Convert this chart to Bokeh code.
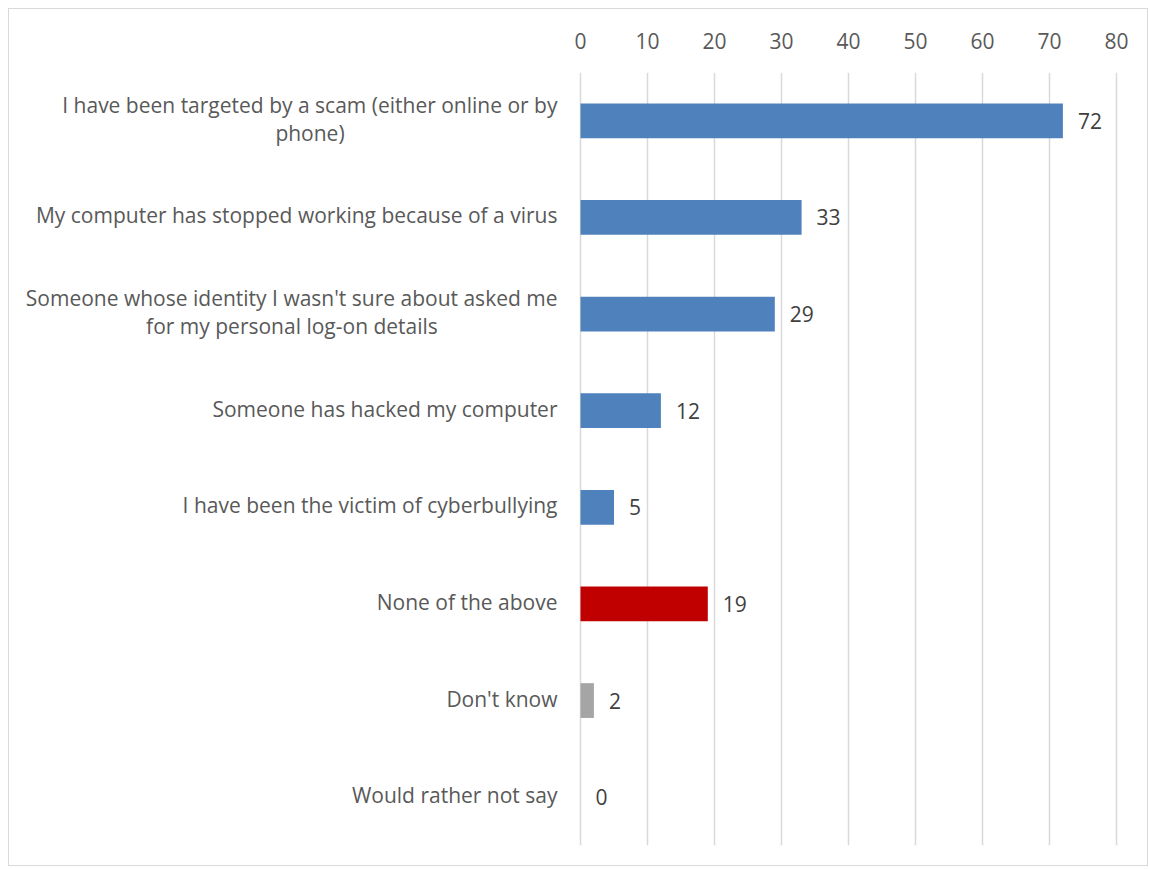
from bokeh.plotting import figure
from bokeh.models import ColumnDataSource, FactorRange, LabelSet, FixedTicker
from bokeh.core.properties import value
from bokeh.embed import file_html
from bokeh.resources import INLINE

categories = [
    "I have been targeted by a scam (either online or by\nphone)",
    "My computer has stopped working because of a virus",
    "Someone whose identity I wasn't sure about asked me\nfor my personal log-on details",
    "Someone has hacked my computer",
    "I have been the victim of cyberbullying",
    "None of the above",
    "Don't know",
    "Would rather not say",
]
values = [72, 33, 29, 12, 5, 19, 2, 0]
colors = ["#4F81BD", "#4F81BD", "#4F81BD", "#4F81BD", "#4F81BD", "#C00000", "#A5A5A5", "#A5A5A5"]
x_ticks = [0, 10, 20, 30, 40, 50, 60, 70, 80]

FONT = "Open Sans"
FS = "21px"
STANDOFF = 23
# estimated rendered widths of first lines (px) for centering the second line
line1_width = {0: 495, 2: 531}

line1, line2, y_off1, x_off2 = [], [], [], []
for i, c in enumerate(categories):
    parts = c.split("\n")
    line1.append(parts[0])
    line2.append(parts[1] if len(parts) > 1 else "")
    y_off1.append(16 if len(parts) > 1 else 2)
    x_off2.append(-(STANDOFF + line1_width.get(i, 0) / 2))

source = ColumnDataSource(dict(
    cat=categories,
    val=values,
    color=colors,
    label=[str(v) for v in values],
    zero=[0] * len(values),
    line1=line1,
    line2=line2,
    y_off1=y_off1,
    x_off2=x_off2,
))

# frame spans the label area too; 6.7 px per unit, 0 at 571px from frame left
p = figure(
    width=1140, height=858,
    y_range=FactorRange(*reversed(categories)),
    x_range=(-571 / 6.7, 80 + 2 / 6.7),
    x_axis_location="above",
    output_backend="svg",
    toolbar_location=None,
    min_border_left=0, min_border_right=31,
    min_border_top=63, min_border_bottom=22,
)
p.styles = {"border": "1px solid #D9D9D9", "margin-left": "8px", "margin-top": "8px"}
p.outline_line_color = None
p.background_fill_color = "white"

p.hbar(y="cat", right="val", left=0, height=0.36, fill_color="color",
       line_color=None, source=source)

labels = LabelSet(x="val", y="cat", text="label", source=source,
                  x_offset=15, text_align="left", text_baseline="middle",
                  text_font=value(FONT), text_font_size=FS, text_color="#404040")
p.add_layout(labels)

cat1 = LabelSet(x="zero", y="cat", text="line1", source=source,
                x_offset=-STANDOFF, y_offset="y_off1", text_align="right",
                text_baseline="middle", text_font=value(FONT),
                text_font_size=FS, text_color="#595959")
cat2 = LabelSet(x="zero", y="cat", text="line2", source=source,
                x_offset="x_off2", y_offset=-12, text_align="center",
                text_baseline="middle", text_font=value(FONT),
                text_font_size=FS, text_color="#595959")
p.add_layout(cat1)
p.add_layout(cat2)

p.xaxis.ticker = FixedTicker(ticks=x_ticks)
p.xaxis.axis_line_color = None
p.xaxis.major_tick_line_color = None
p.xaxis.minor_tick_line_color = None
p.xaxis.major_label_text_font = FONT
p.xaxis.major_label_text_font_size = FS
p.xaxis.major_label_text_color = "#595959"
p.xaxis.major_label_standoff = 18

p.yaxis.visible = False

p.xgrid.grid_line_color = "#D9D9D9"
p.xgrid.grid_line_width = 1.5
p.ygrid.grid_line_color = None

open("out.html", "w").write(file_html(p, INLINE))
